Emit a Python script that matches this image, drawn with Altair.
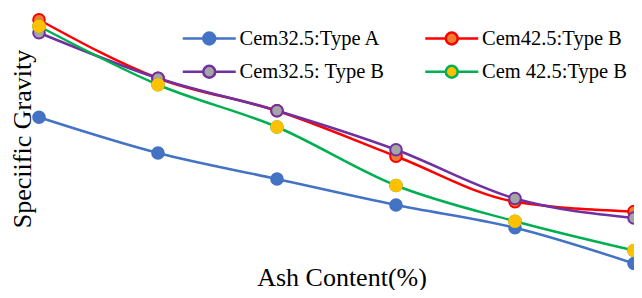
import altair as alt
import pandas as pd

ash = [0, 5, 10, 15, 20, 25]
series_names = ["Cem32.5:Type A", "Cem42.5:Type B", "Cem32.5: Type B", "Cem 42.5:Type B"]
legend_order = ["Cem32.5:Type A", "Cem32.5: Type B", "Cem42.5:Type B", "Cem 42.5:Type B"]
cem325_a = [2.87, 2.76, 2.68, 2.60, 2.53, 2.42]
cem425_b = [3.17, 2.99, 2.89, 2.75, 2.61, 2.58]
cem325_b = [3.13, 2.99, 2.89, 2.77, 2.62, 2.56]
cem425_b2 = [3.15, 2.97, 2.84, 2.66, 2.55, 2.46]
line_colors = ["#4472C4", "#7030A0", "#FF0000", "#00B050"]
marker_fills = ["#4472C4", "#A5A5A5", "#ED7D31", "#FFC000"]

rows = []
for name, vals in zip(series_names, [cem325_a, cem425_b, cem325_b, cem425_b2]):
    for a, v in zip(ash, vals):
        rows.append({"series": name, "ash": a, "sg": v, "k": series_names.index(name)})
df = pd.DataFrame(rows)

FONT = "Liberation Serif"
SYM = "M-2,0H-0.45M0.45,0H2M-0.45,0A0.45,0.45,0,1,1,0.45,0A0.45,0.45,0,1,1,-0.45,0Z"

x = alt.X(
    "ash:Q",
    scale=alt.Scale(domain=[0, 25], nice=False, zero=False),
    axis=alt.Axis(
        title="Ash Content(%)", labels=False, ticks=False, domain=False, grid=False,
        titleX=302.5, titleY=15, titleAlign="center", titleBaseline="alphabetic",
        titleFont=FONT, titleFontSize=26, titleFontWeight="normal", titleColor="black",
    ),
)
y = alt.Y(
    "sg:Q",
    scale=alt.Scale(domain=[2.4, 3.2], nice=False, zero=False),
    axis=alt.Axis(
        title="Speciific Gravity", labels=False, ticks=False, domain=False, grid=False,
        titleX=-9, titleY=128.5, titleAngle=270, titleAlign="center", titleBaseline="alphabetic",
        titleFont=FONT, titleFontSize=26, titleFontWeight="normal", titleColor="black",
    ),
)

legend = alt.Legend(
    title=None, orient="none", legendX=155.75, legendY=13.75, columns=2,
    symbolType=SYM, symbolSize=702, symbolStrokeWidth=2.5,
    labelFont=FONT, labelFontSize=20.5, labelColor="black", labelOffset=15.75, labelLimit=300,
    columnPadding=35.5, rowPadding=7.5, padding=0,
)

stroke_scale = alt.Scale(domain=legend_order, range=line_colors)
fill_scale = alt.Scale(domain=legend_order, range=marker_fills)

lines = alt.Chart(df).mark_line(strokeWidth=2.5, interpolate="monotone").encode(
    x=x, y=y,
    stroke=alt.Stroke("series:N", scale=stroke_scale, legend=legend),
    order="ash:Q",
)

points = alt.Chart(df).mark_point(filled=True, size=135, opacity=1, strokeWidth=2).encode(
    x=x, y=y,
    fill=alt.Fill("series:N", scale=fill_scale, legend=legend),
    stroke=alt.Stroke("series:N", scale=stroke_scale, legend=legend),
    order="k:Q",
)

yellow = alt.Chart(df).transform_filter(
    alt.datum.series == "Cem 42.5:Type B"
).mark_point(filled=True, size=135, opacity=1, strokeWidth=2, fill="#FFC000", stroke="#FFC000").encode(
    x=x, y=y,
)

chart = alt.layer(lines, points, yellow).properties(
    width=595, height=260,
    autosize=alt.AutoSizeParams(type="none"),
    padding={"left": 31, "top": 2, "right": 0, "bottom": 20},
    background="white",
).configure_view(stroke=None)

chart.save("out.html", embed_options={"renderer": "svg", "actions": False})
